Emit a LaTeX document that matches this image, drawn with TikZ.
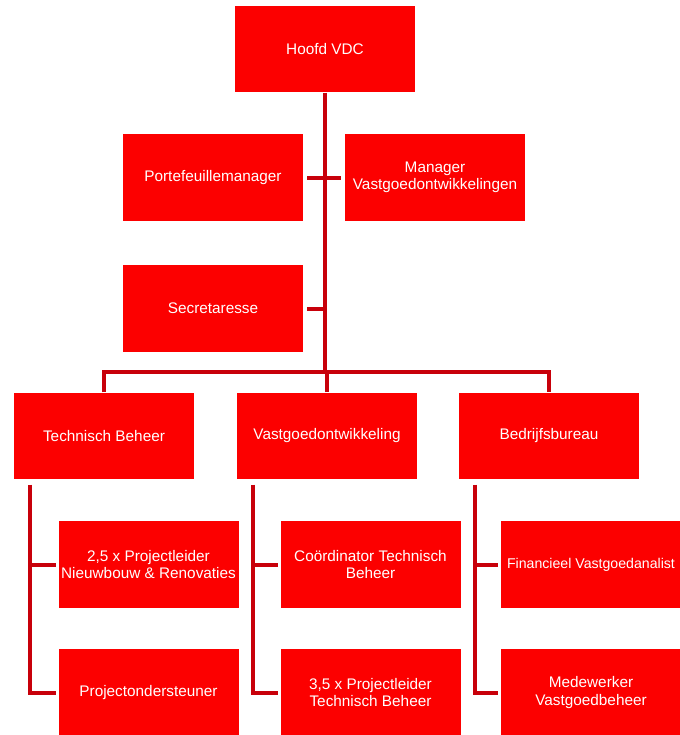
\documentclass[tikz,border=0pt]{standalone}
\usepackage{fontspec}
\setmainfont{Liberation Sans}
\definecolor{boxred}{RGB}{252,0,0}
\definecolor{linered}{RGB}{200,0,10}

\begin{document}
\begin{tikzpicture}[x=0.75pt,y=-0.75pt,
  box/.style={fill=boxred, text=white, minimum width=135pt, minimum height=65pt,
    inner xsep=0pt, align=center, font=\fontsize{11.5}{13}\selectfont},
  conn/.style={draw=linered, line width=3pt}]

\useasboundingbox (0,0) rectangle (680,735);

\node [box] (hoofd) at (325,49) {Hoofd VDC};
\node [box] (pm) at (213,177.5) {Portefeuillemanager};
\node [box] (mv) at (435,177.5) {Manager\\Vastgoedontwikkelingen};
\node [box] (sec) at (213,308.5) {Secretaresse};

\node [box] (tb) at (104,436) {Technisch Beheer};
\node [box] (vo) at (327,436) {Vastgoedontwikkeling};
\node [box] (bb) at (549,436) {Bedrijfsbureau};

\node [box] (pl) at (148.5,564.5) {2,5 x Projectleider\\Nieuwbouw \& Renovaties};
\node [box] (po) at (148.5,692.5) {Projectondersteuner};
\node [box] (co) at (370.5,564.5) {Coördinator Technisch\\Beheer};
\node [box] (pt) at (370.5,692.5) {3,5 x Projectleider\\Technisch Beheer};
\node [box, font=\fontsize{10.6}{13}\selectfont] (fa) at (591,564.5) {Financieel Vastgoedanalist};
\node [box] (mw) at (591,692.5) {Medewerker\\Vastgoedbeheer};

\coordinate (bar) at (325,372);
\coordinate (tbl) at ([xshift=12pt,yshift=-4pt]tb.south west);
\coordinate (vol) at ([xshift=12pt,yshift=-4pt]vo.south west);
\coordinate (bbl) at ([xshift=12pt,yshift=-4pt]bb.south west);

% top
\draw [conn] (hoofd.south) -- (bar);
\draw [conn, shorten <=3pt, shorten >=3pt] (pm.east) -- (mv.west);
\draw [conn, shorten <=3pt] (sec.east) -- (sec.east -| bar);
\draw [conn] (tb.north) |- (bar) -| (bb.north);
\draw [conn] (vo.north) -- (vo.north |- bar);

% children
\draw [conn, shorten >=2pt] (tbl) |- (pl.west);
\draw [conn, shorten >=2pt] (tbl) |- (po.west);
\draw [conn, shorten >=2pt] (vol) |- (co.west);
\draw [conn, shorten >=2pt] (vol) |- (pt.west);
\draw [conn, shorten >=2pt] (bbl) |- (fa.west);
\draw [conn, shorten >=2pt] (bbl) |- (mw.west);

\end{tikzpicture}
\end{document}
